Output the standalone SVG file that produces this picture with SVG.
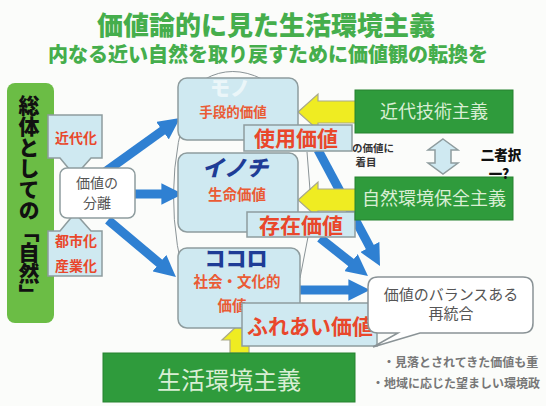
<svg xmlns="http://www.w3.org/2000/svg" width="546" height="406" viewBox="0 0 546 406">
<defs>
<style>
text{font-family:"Noto Sans CJK JP","Noto Sans",sans-serif;}
.ttl{fill:#45ae4c;font-weight:900;text-anchor:middle;}
.lb{fill:#cfe9f1;stroke:#8e9c9e;stroke-width:1.5;}
.red{fill:#e9472b;font-weight:bold;text-anchor:middle;}
.org{fill:#ea5b35;font-weight:bold;text-anchor:middle;}
.navy{fill:#1e3c96;font-weight:900;text-anchor:middle;font-style:italic;}
.dg{fill:#2f9b3c;stroke:#27822f;stroke-width:1;}
.gt{fill:#d9eed4;text-anchor:middle;}
.ba{stroke:#2f80d2;stroke-width:9;fill:none;}
.ye{fill:#efec22;stroke:#a9a98a;stroke-width:1.2;}
.thin{fill:none;stroke:#8a9396;stroke-width:1;}
.gr{fill:#555;text-anchor:middle;}
</style>
<marker id="bh" viewBox="0 0 10 10" refX="4" refY="5" markerWidth="2.4" markerHeight="2.4" orient="auto" markerUnits="strokeWidth">
<path d="M0,0 L10,5 L0,10 z" fill="#2f80d2"/>
</marker>
</defs>
<rect width="546" height="406" fill="#fbfcfa"/>

<g id="title">
<text class="ttl" x="266" y="35" font-size="26">価値論的に見た生活環境主義</text>
<text class="ttl" x="268" y="62" font-size="20">内なる近い自然を取り戻すために価値観の転換を</text>
</g>

<g id="connectors">
<path class="thin" d="M192,92 Q156,192 190,298"/>
<path class="thin" d="M205,79 Q232,64 262,79"/>
<line class="ba" x1="105" y1="172" x2="169.5" y2="125.6" marker-end="url(#bh)"/>
<line class="ba" x1="135" y1="194" x2="170" y2="194" marker-end="url(#bh)"/>
<line class="ba" x1="108" y1="220" x2="166" y2="268.7" marker-end="url(#bh)"/>
<line class="ba" x1="318" y1="150" x2="373.9" y2="254.6" marker-end="url(#bh)"/>
<line class="ba" x1="320" y1="238" x2="357.8" y2="267.9" marker-end="url(#bh)"/>
<line class="ba" x1="298" y1="290" x2="357" y2="290" marker-end="url(#bh)"/>
<path class="ye" d="M298,112 L318,94 L318,101 L357,101 L357,123 L318,123 L318,130 Z"/>
<path class="ye" d="M298,200 L318,182 L318,189 L357,189 L357,211 L318,211 L318,218 Z"/>
<path class="ye" d="M239,324 L257,340 L249,340 L249,353 L230,353 L230,340 L222,340 Z"/>
<path class="lb" d="M443,139 L458,150 L451,150 L451,163 L458,163 L443,174 L428,163 L435,163 L435,150 L428,150 Z"/>
<line class="thin" x1="307" y1="152" x2="310" y2="190"/>
<line class="thin" x1="308" y1="237" x2="300" y2="278"/>
</g>

<g id="nature">
<rect x="7" y="83" width="47" height="240" rx="8" fill="#6bbd45"/>
<text x="29" y="95" font-size="21" font-weight="900" fill="#111" style="writing-mode:vertical-rl">総体としての「自然」</text>
</g>

<g id="modern">
<path class="lb" d="M48,115 H102 V158 H91 L75,176 L60,158 H48 Z"/>
<text class="red" x="76" y="143" font-size="14">近代化</text>
</g>

<g id="urban">
<path class="lb" d="M48,276 H102 V231 H91 L75,213 L60,231 H48 Z"/>
<text class="red" x="76" y="246" font-size="14">都市化</text>
<text class="red" x="76" y="271" font-size="14">産業化</text>
</g>

<g id="separation">
<rect x="60" y="168" width="75" height="50" rx="7" fill="#fff" stroke="#8e9c9e" stroke-width="1.5"/>
<text class="gr" x="97" y="188" font-size="14">価値の</text>
<text class="gr" x="97" y="208" font-size="14">分離</text>
</g>

<g id="mono">
<rect class="lb" x="178" y="78" width="120" height="62" rx="9"/>
<text x="230" y="96" font-size="20" font-weight="900" fill="#fff" fill-opacity="0.6" text-anchor="middle">モノ</text>
<text class="org" x="233" y="117" font-size="13.5">手段的価値</text>
</g>

<g id="inochi">
<rect class="lb" x="178" y="153" width="120" height="79" rx="9"/>
<text class="navy" x="235" y="176" font-size="22">イノチ</text>
<text class="org" x="237" y="200" font-size="14.5">生命価値</text>
</g>

<g id="kokoro">
<rect class="lb" x="178" y="248" width="122" height="80" rx="9"/>
<text class="navy" x="236" y="266" font-size="21" style="font-style:normal">ココロ</text>
<text class="org" x="237" y="287" font-size="14.5">社会・文化的</text>
<text class="org" x="232" y="311" font-size="14.5">価値</text>
</g>

<g id="note">
<text x="352" y="152" font-size="10.5" font-weight="bold" fill="#333">の価値に</text>
<text x="366" y="166" font-size="10.5" font-weight="bold" fill="#333" text-anchor="middle">着目</text>
</g>

<g id="use-value">
<rect class="lb" x="244" y="125" width="108" height="26"/>
<text class="red" x="296" y="146" font-size="21">使用価値</text>
</g>

<g id="exist-value">
<rect class="lb" x="247" y="212" width="108" height="25"/>
<text class="red" x="301" y="233" font-size="21">存在価値</text>
</g>

<g id="contact-value">
<rect class="lb" x="242" y="303" width="135" height="43"/>
<text class="red" x="310" y="334" font-size="21">ふれあい価値</text>
</g>

<g id="tech">
<rect class="dg" x="355" y="90" width="158" height="43"/>
<text class="gt" x="434" y="118" font-size="18">近代技術主義</text>
</g>

<g id="conservation">
<rect class="dg" x="355" y="177" width="158" height="43"/>
<text class="gt" x="434" y="205" font-size="18">自然環境保全主義</text>
</g>

<g id="choice">
<text x="501" y="160" font-size="13.5" font-weight="900" fill="#111" text-anchor="middle">二者択</text>
<text x="499" y="179" font-size="13.5" font-weight="900" fill="#111" text-anchor="middle">一?</text>
</g>

<g id="reintegration">
<path d="M378,277 H523 Q533,277 533,287 V323 Q533,333 523,333 H420 L373,347 L398,333 H378 Q368,333 368,323 V287 Q368,277 378,277 Z" fill="#fff" stroke="#8a9396" stroke-width="1.5"/>
<text class="gr" x="451" y="300" font-size="15">価値のバランスある</text>
<text class="gr" x="451" y="319" font-size="15">再統合</text>
</g>

<g id="lifestyle">
<rect class="dg" x="103" y="353" width="252" height="49"/>
<text class="gt" x="229" y="389" font-size="24">生活環境主義</text>
</g>

<g id="bullets">
<text x="383" y="367" font-size="12" font-weight="bold" fill="#777">・見落とされてきた価値も重</text>
<text x="372" y="388" font-size="12" font-weight="bold" fill="#777">・地域に応じた望ましい環境政</text>
</g>
</svg>
